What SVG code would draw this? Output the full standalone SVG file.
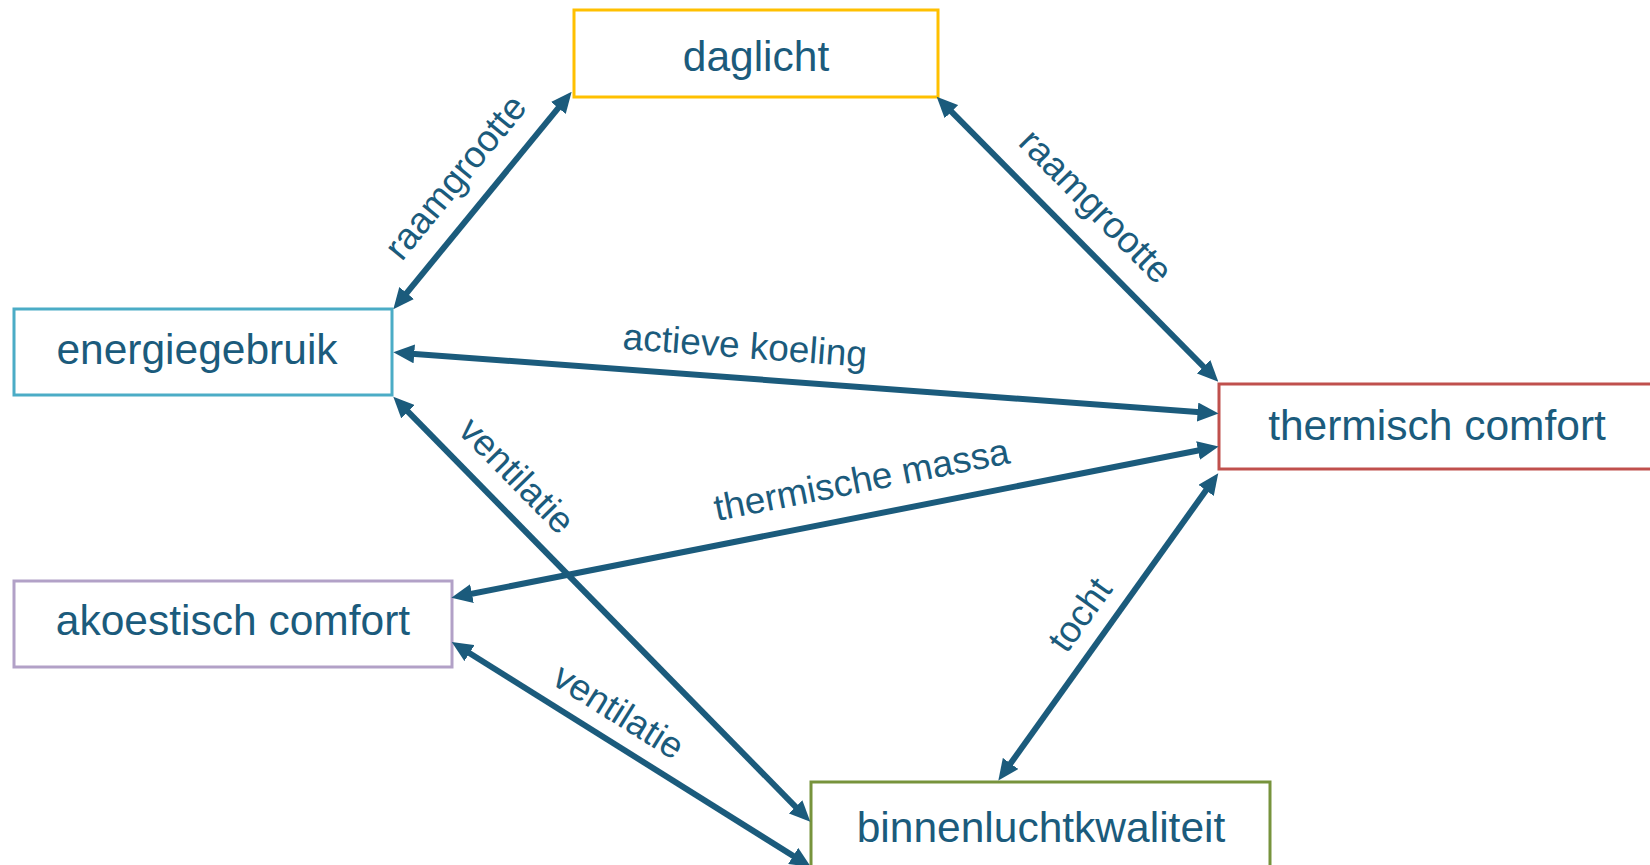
<svg xmlns="http://www.w3.org/2000/svg" width="1650" height="865" viewBox="0 0 1650 865">
  <style>
    .box { fill: #ffffff; stroke-width: 3; }
    .node-label { font-family: "Liberation Sans", Arial, sans-serif; font-size: 42.5px; fill: #1B5B7C; text-anchor: middle; }
    .link { stroke: #1B5B7C; stroke-width: 6; fill: none; marker-start: url(#head); marker-end: url(#head); }
    .link-label { font-family: "Liberation Sans", Arial, sans-serif; font-size: 37px; fill: #1B5B7C; text-anchor: middle; }
  </style>
  <defs>
    <marker id="head" viewBox="0 0 21 19" refX="13" refY="9.5" markerWidth="21" markerHeight="19" markerUnits="userSpaceOnUse" orient="auto-start-reverse">
      <path d="M0,0 L21,9.5 L0,19 Z" fill="#1B5B7C"/>
    </marker>
  </defs>
  <rect width="1650" height="865" fill="#ffffff"/>

  <!-- nodes -->
  <g id="daglicht">
    <rect class="box" x="574" y="10" width="364" height="87" stroke="#FFC000"/>
    <text class="node-label" x="756" y="71">daglicht</text>
  </g>
  <g id="energiegebruik">
    <rect class="box" x="14" y="309" width="378" height="86" stroke="#4BACC6"/>
    <text class="node-label" x="197" y="364">energiegebruik</text>
  </g>
  <g id="thermisch-comfort">
    <rect class="box" x="1219" y="384" width="500" height="85" stroke="#C0504D"/>
    <text class="node-label" x="1437" y="440">thermisch comfort</text>
  </g>
  <g id="akoestisch-comfort">
    <rect class="box" x="14" y="581" width="438" height="86" stroke="#B2A1C7"/>
    <text class="node-label" x="233" y="635">akoestisch comfort</text>
  </g>
  <g id="binnenluchtkwaliteit">
    <rect class="box" x="811" y="782" width="459" height="100" stroke="#77933C"/>
    <text class="node-label" x="1041" y="842">binnenluchtkwaliteit</text>
  </g>

  <!-- connectors -->
  <g id="connectors">
    <line class="link" x1="398.4" y1="303.1" x2="566.6" y2="97.9"/>
    <line class="link" x1="942.3" y1="102.4" x2="1212.7" y2="376.0"/>
    <line class="link" x1="401.3" y1="352.9" x2="1210.6" y2="413.0"/>
    <line class="link" x1="459.2" y1="596.2" x2="1210.8" y2="448.0"/>
    <line class="link" x1="398.9" y1="402.4" x2="804.7" y2="816.1"/>
    <line class="link" x1="458.5" y1="646.2" x2="804.2" y2="862.8"/>
    <line class="link" x1="1213.6" y1="479.8" x2="1003.0" y2="774.0"/>

    <text class="link-label" transform="translate(465 185) rotate(-50.65)">raamgrootte</text>
    <text class="link-label" transform="translate(1087 215) rotate(45.34)">raamgrootte</text>
    <text class="link-label" transform="translate(744 358) rotate(4.25)">actieve koeling</text>
    <text class="link-label" transform="translate(864 492) rotate(-11.17)">thermische massa</text>
    <text class="link-label" transform="translate(508 484) rotate(45.55)">ventilatie</text>
    <text class="link-label" transform="translate(612 722) rotate(32.1)">ventilatie</text>
    <text class="link-label" transform="translate(1090 622) rotate(-54.35)">tocht</text>
  </g>
</svg>
